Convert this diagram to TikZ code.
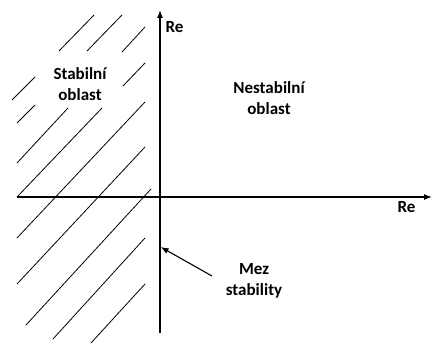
\documentclass[tikz,border=0pt]{standalone}
\usepackage{fontspec}
\setmainfont{Carlito}
\usepackage{tikz}
\usetikzlibrary{arrows.meta}
\tikzset{
  axis/.style={-{Latex[length=8pt,width=6pt]}, line width=1.3pt, draw=black},
  hatch/.style={line width=0.8pt, draw=black},
  pointer/.style={-{Latex[length=8pt,width=6pt]}, line width=1.1pt, draw=black},
  lbl/.style={font=\fontsize{17}{21}\selectfont\bfseries, align=center, inner sep=0pt},
}

\begin{document}
\begin{tikzpicture}[x=1pt, y=-1pt]
    \useasboundingbox (0,0) rectangle (433,344);

    % hatched stable half plane
    \foreach \xa/\ya/\xb/\yb in {59/51/94/15, 87/51/122/15, 122/52/145/27,
      123/86/145/63, 12/100/35/77, 17/123/35/105, 17/163/68/108,
      17/197/102/108, 17/238/145/102, 17/284/145/147, 26/325/151/189,
      53/339/145/238, 91/343/145/284}
      \draw[hatch] (\xa,\ya) -- (\xb,\yb);

    % axes
    \coordinate (xstart) at (17,197);
    \coordinate (xend) at (432,197);
    \coordinate (ystart) at (160,333);
    \coordinate (yend) at (160,10);
    \draw[axis] (xstart) -- (xend);
    \draw[axis] (ystart) -- (yend);

    \node[lbl] (reim) at (174.5,27.5) {Re};
    \node[lbl] (rere) at (406.5,207) {Re};

    \node[lbl] (stab) at (80,84) {Stabilní\\oblast};
    \node[lbl] (nestab) at (269,98) {Nestabilní\\oblast};
    \node[lbl] (mez) at (254,281) {Mez\\stability};

    \coordinate (mezfrom) at (212,276);
    \coordinate (mezto) at (160.6,247);
    \draw[pointer] (mezfrom) -- (mezto);
  \end{tikzpicture}
\end{document}
